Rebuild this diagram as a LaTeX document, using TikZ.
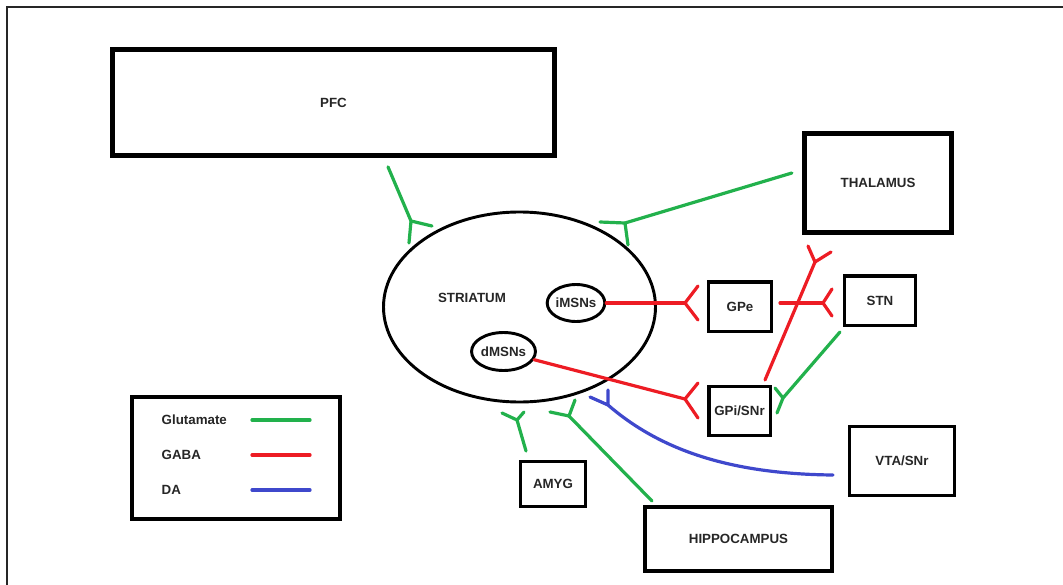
\documentclass[tikz,border=0pt]{standalone}
\usepackage{fontspec}
\setmainfont{Liberation Sans}
\usetikzlibrary{calc,shapes.geometric}
\definecolor{glucol}{RGB}{34,177,76}
\definecolor{gabacol}{RGB}{237,28,36}
\definecolor{dacol}{RGB}{63,72,204}
% stem and two prongs of a synaptic ending: #1 style, #2 junction, #3/#4 prong offsets
\newcommand\synfork[4]{\draw[#1] ($(#2)+(#3)$) -- (#2) -- ($(#2)+(#4)$);}
\tikzset{
  lbl/.style={font=\fontsize{10}{12}\selectfont\bfseries, text=black!85},
  regionbig/.style={draw, lbl, rectangle, inner sep=0pt, line width=3.6pt},
  regionmid/.style={draw, lbl, rectangle, inner sep=0pt, line width=3pt},
  regionsmall/.style={draw, lbl, rectangle, inner sep=0pt, line width=2.6pt},
  cellgroup/.style={draw, lbl, ellipse, inner sep=0pt, line width=2.2pt},
  wire/.style={line width=2.4pt, line cap=round, line join=round},
  glu/.style={wire, glucol},
  gaba/.style={wire, gabacol},
  da/.style={wire, dacol},
}
\begin{document}
\begin{tikzpicture}[x=0.75pt, y=-0.75pt]
\useasboundingbox (0,0) rectangle (1063,585);
% page frame
\draw[line width=1.6pt, black!85] (7,585) -- (7,7) -- (1063,7);

% regions
\node[regionbig, minimum width=331.5pt, minimum height=79.5pt] (pfc) at (333.5,102.5) {PFC};
\node[regionbig, minimum width=110.6pt, minimum height=74.6pt] (thal) at (878,183) {THALAMUS};
\node[regionsmall, minimum width=46.9pt, minimum height=37.1pt] (gpe) at (740,306.5) {GPe};
\node[regionsmall, minimum width=52.9pt, minimum height=37.1pt] (stn) at (880,300.5) {STN};
\node[regionsmall, minimum width=46.1pt, minimum height=36.4pt] (gpi) at (739.5,411) {GPi/SNr};
\node[regionsmall, minimum width=78.4pt, minimum height=51.4pt] (vta) at (902,461) {VTA/SNr};
\node[regionsmall, minimum width=48.4pt, minimum height=33.4pt] (amyg) at (553,484) {AMYG};
\node[regionmid, minimum width=140.25pt, minimum height=48pt] (hippo) at (738.5,539) {HIPPOCAMPUS};

% striatum and its cell populations
\node[cellgroup, minimum width=204pt, minimum height=142.5pt] (str) at (519.5,307) {};
\node[lbl] (strlbl) at (472,297.5) {STRIATUM};
\node[cellgroup, minimum width=37.5pt, minimum height=27.75pt] (imsn) at (576,303) {iMSNs};
\node[cellgroup, minimum width=39pt, minimum height=28.5pt] (dmsn) at (503.5,351.5) {dMSNs};

% junction points of the synaptic endings
\coordinate (jP) at (411,221);
\coordinate (jT) at (625,223);
\coordinate (jI) at (685,303);
\coordinate (jS) at (823,303);
\coordinate (jD) at (685,399);
\coordinate (jH) at (815,262);
\coordinate (jG) at (783,398);
\coordinate (jA) at (517,420);
\coordinate (jC) at (569,416);
\coordinate (jV) at (608,405);

% glutamatergic projections
\draw[glu] ($(pfc.south)+(54.5,9)$) -- (jP);
\synfork{glu}{jP}{21,5}{-2,22}
\draw[glu] ($(thal.west)+(-10,-10)$) -- (jT);
\synfork{glu}{jT}{-25,-1}{3,22}
\draw[glu] ($(stn.south west)+(-3,5)$) -- (jG);
\synfork{glu}{jG}{-8,-10}{-6,15}
\draw[glu] ($(amyg.north)+(-27,-9)$) -- (jA);
\synfork{glu}{jA}{-15,-7}{7,-8}
\draw[glu] ($(hippo.north west)+(9,-4)$) -- (jC);
\synfork{glu}{jC}{-19,-4}{6,-16}

% GABAergic projections
\draw[gaba] (imsn.east) -- (jI);
\synfork{gaba}{jI}{13,-17}{13,17}
\draw[gaba] ($(gpe.east)+(7,-3.5)$) -- (jS);
\synfork{gaba}{jS}{9,-14}{9,13}
\draw[gaba] (dmsn.-15) -- (jD);
\synfork{gaba}{jD}{13,-16}{13,19}
\draw[gaba] ($(gpi.north)+(25.5,-5)$) -- (jH);
\synfork{gaba}{jH}{-7,-16}{16,-10}

% dopaminergic projection
\draw[da] ($(vta.west)+(-15,14)$) .. controls (730,474) and (660,450) .. (jV);
\synfork{da}{jV}{0,-15}{-18,-8}

% legend
\node[regionmid, minimum width=156pt, minimum height=91.5pt] (legend) at (236,458) {};
\node[lbl, anchor=west] (lglu) at (157,420) {Glutamate};
\node[lbl, anchor=west] (lgaba) at (157,455) {GABA};
\node[lbl, anchor=west] (lda) at (157,490) {DA};
\draw[glu] (252,420) -- (310,420);
\draw[gaba] (252,455) -- (310,455);
\draw[da] (252,490) -- (310,490);
\end{tikzpicture}
\end{document}
